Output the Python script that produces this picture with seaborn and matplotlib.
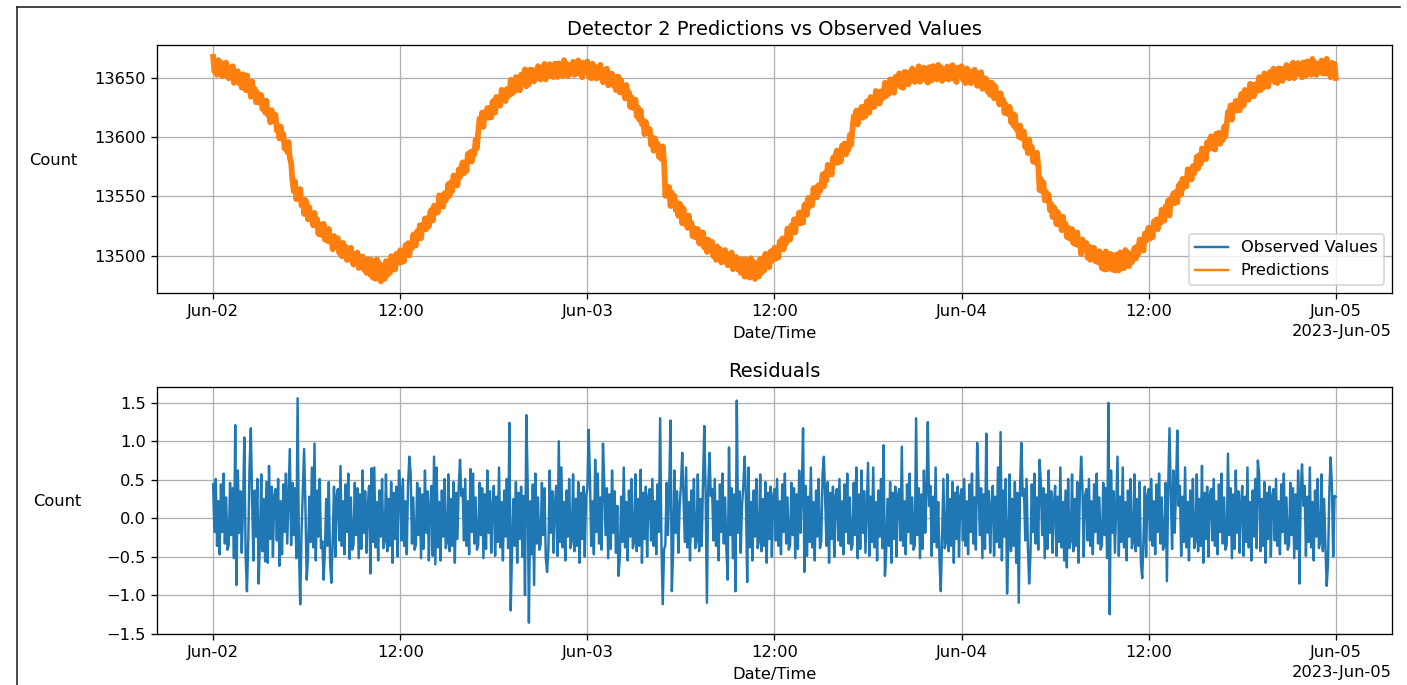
import pandas as pd
import matplotlib
matplotlib.use("Agg")
import matplotlib.pyplot as plt
import matplotlib.dates as mdates
from matplotlib.lines import Line2D
import seaborn as sns

# observed detector counts, 5-minute steps, one row per hour
obs_jun02 = [
    13668, 13655, 13663, 13652, 13665, 13656, 13663, 13651, 13659, 13652, 13663, 13652,
    13649, 13659, 13651, 13660, 13645, 13656, 13649, 13656, 13645, 13652, 13641, 13653,
    13652, 13639, 13651, 13639, 13644, 13635, 13647, 13635, 13641, 13629, 13638, 13628,
    13629, 13636, 13623, 13631, 13620, 13631, 13618, 13622, 13612, 13623, 13613, 13619,
    13619, 13605, 13610, 13598, 13609, 13598, 13603, 13590, 13595, 13587, 13596, 13583,
    13578, 13564, 13554, 13563, 13547, 13556, 13548, 13555, 13542, 13548, 13536, 13547,
    13543, 13530, 13541, 13530, 13534, 13525, 13537, 13525, 13531, 13518, 13527, 13517,
    13518, 13526, 13513, 13522, 13512, 13523, 13511, 13515, 13505, 13517, 13508, 13514,
    13515, 13502, 13509, 13499, 13511, 13502, 13508, 13496, 13503, 13497, 13507, 13496,
    13492, 13502, 13494, 13503, 13489, 13499, 13493, 13500, 13488, 13496, 13485, 13497,
    13496, 13483, 13497, 13481, 13492, 13480, 13497, 13482, 13494, 13478, 13492, 13480,
    13480, 13496, 13483, 13495, 13485, 13500, 13488, 13496, 13488, 13502, 13493, 13502,
    13505, 13494, 13504, 13495, 13509, 13503, 13511, 13501, 13511, 13506, 13518, 13510,
    13508, 13521, 13514, 13526, 13514, 13526, 13522, 13532, 13522, 13532, 13524, 13537,
    13539, 13529, 13543, 13535, 13542, 13536, 13551, 13542, 13551, 13541, 13553, 13546,
    13550, 13561, 13550, 13562, 13554, 13568, 13559, 13566, 13559, 13573, 13567, 13575,
    13579, 13569, 13579, 13571, 13586, 13580, 13588, 13579, 13589, 13585, 13598, 13590,
    13604, 13616, 13610, 13621, 13608, 13621, 13616, 13625, 13616, 13625, 13616, 13630,
    13631, 13620, 13634, 13626, 13633, 13626, 13640, 13631, 13639, 13630, 13641, 13634,
    13637, 13647, 13636, 13646, 13638, 13651, 13641, 13647, 13639, 13653, 13646, 13653,
    13656, 13644, 13653, 13643, 13657, 13649, 13657, 13646, 13654, 13649, 13660, 13651,
    13648, 13659, 13652, 13662, 13648, 13659, 13654, 13662, 13651, 13659, 13650, 13662,
    13662, 13650, 13663, 13653, 13659, 13651, 13665, 13655, 13662, 13651, 13661, 13653,
    13655, 13664, 13652, 13662, 13653, 13665, 13653, 13659, 13650, 13663, 13655, 13662,
]
obs_jun03 = [
    13664, 13652, 13659, 13649, 13662, 13653, 13660, 13649, 13656, 13650, 13661, 13650,
    13647, 13657, 13649, 13658, 13643, 13654, 13647, 13654, 13643, 13650, 13639, 13651,
    13650, 13637, 13648, 13637, 13641, 13632, 13644, 13632, 13638, 13625, 13634, 13624,
    13625, 13632, 13617, 13625, 13614, 13623, 13610, 13614, 13602, 13613, 13603, 13607,
    13607, 13593, 13600, 13588, 13599, 13590, 13595, 13583, 13589, 13581, 13591, 13579,
    13550, 13559, 13550, 13558, 13543, 13552, 13544, 13551, 13538, 13545, 13533, 13544,
    13542, 13528, 13540, 13528, 13533, 13523, 13534, 13523, 13528, 13516, 13524, 13515,
    13515, 13523, 13510, 13519, 13509, 13520, 13508, 13512, 13502, 13514, 13505, 13511,
    13512, 13499, 13507, 13496, 13508, 13500, 13506, 13494, 13502, 13495, 13505, 13495,
    13491, 13502, 13493, 13503, 13488, 13499, 13492, 13500, 13488, 13496, 13485, 13497,
    13496, 13483, 13497, 13482, 13493, 13481, 13498, 13483, 13495, 13480, 13494, 13482,
    13482, 13498, 13485, 13497, 13487, 13502, 13490, 13498, 13490, 13504, 13495, 13504,
    13507, 13497, 13506, 13498, 13512, 13506, 13515, 13505, 13515, 13510, 13523, 13514,
    13513, 13526, 13519, 13531, 13519, 13531, 13527, 13537, 13527, 13537, 13529, 13542,
    13544, 13534, 13549, 13541, 13548, 13542, 13557, 13549, 13558, 13549, 13560, 13554,
    13558, 13569, 13559, 13570, 13563, 13577, 13568, 13575, 13568, 13583, 13577, 13585,
    13589, 13578, 13588, 13579, 13593, 13586, 13595, 13585, 13594, 13589, 13602, 13593,
    13606, 13618, 13611, 13623, 13610, 13622, 13617, 13626, 13616, 13626, 13617, 13630,
    13631, 13620, 13634, 13625, 13632, 13625, 13639, 13630, 13638, 13628, 13639, 13632,
    13635, 13645, 13634, 13644, 13636, 13649, 13639, 13645, 13637, 13651, 13644, 13651,
    13654, 13642, 13651, 13641, 13655, 13647, 13655, 13644, 13652, 13647, 13658, 13649,
    13646, 13657, 13649, 13660, 13646, 13657, 13651, 13659, 13648, 13657, 13647, 13659,
    13659, 13647, 13660, 13650, 13656, 13648, 13661, 13651, 13658, 13647, 13657, 13649,
    13651, 13660, 13648, 13658, 13649, 13661, 13649, 13655, 13646, 13659, 13651, 13658,
]
obs_jun04 = [
    13660, 13648, 13655, 13645, 13658, 13650, 13656, 13645, 13653, 13647, 13657, 13647,
    13644, 13654, 13645, 13655, 13640, 13650, 13643, 13650, 13638, 13646, 13635, 13646,
    13645, 13632, 13643, 13632, 13636, 13627, 13638, 13627, 13632, 13620, 13628, 13619,
    13619, 13626, 13612, 13620, 13609, 13619, 13606, 13610, 13599, 13610, 13600, 13605,
    13605, 13591, 13597, 13586, 13597, 13587, 13592, 13579, 13585, 13578, 13587, 13575,
    13556, 13565, 13554, 13562, 13546, 13554, 13546, 13552, 13538, 13544, 13532, 13541,
    13539, 13526, 13537, 13526, 13531, 13521, 13533, 13522, 13527, 13515, 13524, 13514,
    13515, 13523, 13510, 13519, 13509, 13520, 13508, 13512, 13502, 13514, 13505, 13511,
    13511, 13498, 13508, 13496, 13507, 13499, 13507, 13495, 13501, 13494, 13504, 13494,
    13489, 13502, 13488, 13504, 13488, 13501, 13490, 13502, 13488, 13499, 13487, 13501,
    13501, 13487, 13503, 13489, 13499, 13489, 13505, 13491, 13503, 13491, 13502, 13494,
    13497, 13507, 13497, 13508, 13501, 13514, 13505, 13512, 13504, 13519, 13512, 13521,
    13524, 13514, 13523, 13515, 13529, 13523, 13531, 13522, 13531, 13527, 13539, 13531,
    13529, 13542, 13536, 13547, 13535, 13548, 13544, 13553, 13544, 13554, 13546, 13559,
    13561, 13551, 13565, 13557, 13565, 13558, 13573, 13565, 13573, 13564, 13576, 13569,
    13573, 13584, 13573, 13585, 13577, 13591, 13581, 13589, 13581, 13596, 13589, 13598,
    13601, 13590, 13599, 13589, 13603, 13596, 13604, 13594, 13603, 13597, 13609, 13600,
    13610, 13622, 13616, 13627, 13614, 13627, 13622, 13631, 13622, 13631, 13622, 13636,
    13637, 13626, 13640, 13631, 13638, 13631, 13645, 13636, 13644, 13634, 13645, 13638,
    13641, 13651, 13639, 13650, 13641, 13654, 13644, 13650, 13642, 13655, 13648, 13655,
    13658, 13646, 13655, 13645, 13658, 13651, 13658, 13647, 13656, 13650, 13661, 13652,
    13649, 13660, 13653, 13663, 13649, 13660, 13655, 13663, 13652, 13660, 13651, 13663,
    13663, 13651, 13664, 13654, 13660, 13652, 13666, 13656, 13663, 13652, 13662, 13654,
    13656, 13665, 13653, 13663, 13653, 13665, 13654, 13660, 13651, 13663, 13655, 13662,
    13650,
]

# residuals (observed - predicted), same timestamps
res_jun02 = [
    0.44, -0.18, 0.51, -0.36, 0.22, -0.47, 0.44, -0.18, 0.58, -0.33, 0.27, -0.41,
    -0.35, 0.46, -0.22, 0.39, -0.52, 1.21, -0.87, 0.62, -0.19, 0.35, -0.45, 0.16,
    1.05, -0.49, -0.95, -0.31, 0.66, 1.17, 0.21, -0.55, 0.36, -0.24, 0.51, -0.85,
    -0.30, 0.57, -0.43, 0.25, -0.56, 0.47, -0.58, 0.68, -0.27, 0.41, -0.50, 0.29,
    0.38, -0.29, 0.51, -0.62, 0.22, -0.47, 0.44, -0.18, 0.58, -0.33, 0.27, 0.90,
    -0.35, 0.46, -0.22, 0.39, -0.52, 1.56, -0.40, -1.12, -0.19, 0.35, 0.90, 0.16,
    -0.80, -0.49, 0.28, -0.31, 0.66, -0.38, 0.97, -0.55, 0.36, -0.24, 0.51, -0.39,
    -0.30, -0.80, -0.43, 0.25, -0.36, 0.47, -0.58, -0.84, -0.27, 0.41, -0.50, 0.29,
    0.38, -0.29, 0.68, -0.36, 0.22, -0.47, 0.44, -0.18, 0.58, -0.53, 0.27, -0.41,
    -0.35, 0.46, -0.22, 0.39, -0.52, 0.31, -0.40, 0.62, -0.19, 0.35, -0.45, 0.16,
    0.42, -0.72, 0.65, -0.31, 0.66, -0.38, 0.21, -0.55, 0.36, -0.24, 0.51, -0.39,
    -0.30, 0.57, -0.43, 0.25, -0.36, 0.47, -0.58, 0.33, -0.27, 0.41, -0.50, 0.62,
    0.38, -0.29, 0.51, -0.36, 0.22, -0.47, 0.44, 0.80, 0.58, -0.33, 0.27, -0.41,
    -0.35, 0.46, -0.22, 0.39, -0.52, 0.31, -0.40, 0.62, -0.19, 0.35, -0.55, 0.16,
    0.42, -0.49, 0.80, -0.60, 0.66, -0.38, 0.21, -0.55, 0.36, -0.24, 0.51, -0.39,
    -0.30, 0.57, -0.43, 0.25, -0.36, 0.47, -0.58, 0.33, -0.27, 0.41, 0.76, 0.29,
    0.38, -0.29, 0.51, -0.36, 0.22, -0.47, 0.64, -0.18, 0.58, -0.33, 0.27, -0.41,
    -0.35, 0.46, -0.22, 0.39, -0.52, 0.31, -0.40, 0.62, -0.19, 0.35, -0.45, 0.16,
    0.42, -0.49, 0.28, -0.31, 0.66, -0.38, 0.21, -0.55, 0.36, -0.24, 0.51, -0.39,
    1.24, -1.20, -0.43, 0.25, -0.36, 0.47, -0.58, 0.33, -0.27, 0.41, -0.50, 0.29,
    -1.00, 1.34, 0.51, -1.36, 0.22, -0.47, 0.44, -0.87, 0.58, -0.33, 0.27, -0.41,
    -0.35, 0.46, -0.22, 0.39, -0.52, -0.70, -0.40, 0.62, -0.19, 0.35, -0.45, 0.16,
    0.42, -0.49, 1.00, -0.31, 0.66, -0.38, 0.21, -0.55, 0.36, -0.24, 0.51, -0.39,
    -0.30, 0.57, -0.43, 0.25, -0.36, 0.47, -0.58, 0.33, -0.27, 0.41, -0.50, 0.29,
]
res_jun03 = [
    0.38, 1.15, 0.51, -0.36, 0.22, -0.47, 0.76, -0.18, 0.58, -0.33, 0.27, -0.41,
    0.97, 0.46, -0.22, 0.39, -0.52, 0.31, -0.40, 0.62, -0.19, 0.35, -0.45, 0.16,
    -0.75, -0.49, 0.28, -0.31, 0.66, -0.38, 0.21, -0.55, 0.36, -0.24, 0.51, -0.39,
    -0.30, 0.57, -0.43, 0.25, -0.36, 0.63, -0.58, 0.33, -0.27, 0.41, -0.50, 0.29,
    0.38, -0.29, 0.51, -0.36, 0.22, -0.47, 0.44, -0.18, 1.30, -0.33, -1.12, -0.41,
    -0.35, 0.46, -0.22, 0.39, 1.27, -0.95, -0.40, 0.62, -0.19, 0.35, -0.45, 0.16,
    0.42, 0.85, 0.28, -0.31, 0.66, -0.38, 0.21, -0.55, 0.36, -0.24, 0.51, -0.39,
    -0.30, 0.57, -0.43, 0.25, -0.36, 0.47, 1.20, 0.33, -1.10, 0.41, 0.85, 0.29,
    0.38, -0.29, 0.51, -0.36, 0.22, -0.55, 0.44, -0.18, 0.58, -0.33, 0.27, -0.41,
    -0.80, 0.92, -0.22, 0.39, -0.52, 0.31, -0.95, 1.53, -0.19, 0.35, -0.45, 0.16,
    0.42, 0.80, 0.28, -0.83, 0.66, -0.38, 0.21, -0.55, 0.36, -0.24, 0.51, -0.39,
    -0.30, 0.57, -0.43, 0.25, -0.36, 0.47, -0.58, 0.33, -0.27, 0.41, -0.50, 0.29,
    0.38, -0.29, 0.51, -0.36, 0.22, -0.47, 0.44, -0.18, 0.58, -0.33, 0.27, -0.41,
    -0.35, 0.46, -0.22, 0.39, -0.52, 0.31, -0.40, 0.62, -0.19, 0.35, 1.17, -0.70,
    0.42, -0.49, 0.28, -0.31, 0.66, -0.38, 0.21, -0.55, 0.36, -0.24, 0.51, -0.39,
    -0.30, 0.57, 0.80, 0.25, -0.36, 0.47, -0.58, 0.33, -0.27, 0.41, -0.50, 0.29,
    0.38, -0.29, 0.51, -0.36, 0.22, -0.47, 0.44, -0.18, 0.58, -0.33, 0.27, -0.41,
    -0.35, 0.46, -0.22, 0.66, -0.52, 0.31, -0.40, 0.62, -0.19, 0.35, -0.45, 0.16,
    0.72, -0.49, 0.28, -0.31, 0.66, -0.38, 0.21, -0.55, 0.36, -0.24, 0.51, -0.39,
    0.95, -0.75, -0.43, 0.25, -0.36, 0.47, -0.58, 0.33, -0.27, 0.41, -0.50, 0.29,
    0.38, -0.29, 0.93, -0.36, 0.22, -0.47, 0.44, -0.18, 0.58, -0.33, 0.27, -0.41,
    -0.35, 1.30, -0.22, 0.39, -0.52, 0.31, -0.40, 0.62, -0.19, 0.35, 1.25, 0.16,
    0.42, -0.49, 0.28, -0.31, 0.66, -0.38, 0.21, -0.55, -0.95, -0.24, 0.51, -0.39,
    -0.30, 0.57, -0.43, 0.25, -0.36, 0.47, -0.58, 0.33, -0.27, 0.41, -0.50, 0.29,
]
res_jun04 = [
    0.38, -0.29, 0.51, -0.36, 0.22, -0.47, 0.44, -0.18, 0.58, -0.33, 0.27, -0.41,
    0.98, 0.46, -0.22, 0.39, -0.52, 0.31, -0.40, 1.10, -0.19, 0.35, -0.45, 0.16,
    0.42, -0.49, 0.28, -0.31, 0.66, -0.38, 1.12, -0.55, 0.36, -0.24, 0.51, -0.98,
    -0.30, 0.57, -0.43, 0.25, -0.36, 0.47, -0.58, 0.33, -1.10, 0.41, 0.98, 0.29,
    0.38, -0.29, 0.51, -0.36, -0.85, -0.47, 0.44, -0.18, 0.58, -0.33, 0.27, -0.41,
    0.76, 0.46, -0.22, 0.39, -0.52, 0.31, -0.40, 0.62, -0.19, 0.35, -0.45, 0.16,
    0.42, -0.49, 0.28, -0.31, 0.66, -0.38, 0.21, -0.55, 0.36, -0.64, 0.51, -0.39,
    -0.30, 0.57, -0.43, 0.25, -0.36, 0.47, -0.58, 0.33, 0.80, 0.41, -0.50, 0.29,
    0.38, -0.29, 0.51, -0.36, 0.22, -0.47, 0.44, -0.18, 0.58, -0.33, 0.27, -0.41,
    -0.35, 0.46, -0.22, 0.39, -0.52, 1.50, -1.25, 0.62, -0.19, 0.35, -0.45, 0.16,
    0.80, -0.49, 0.28, -0.31, 0.66, -0.38, 0.21, -0.55, 0.36, -0.24, 0.51, -0.39,
    -0.30, 0.57, -0.43, 0.25, -0.36, 0.47, -0.58, -0.78, -0.27, 0.41, -0.50, 0.29,
    0.38, -0.29, 0.51, -0.36, 0.22, -0.47, 0.44, -0.18, 0.58, -0.33, 0.27, -0.41,
    -0.35, 0.46, -0.82, 0.39, 1.17, 0.31, -0.40, 0.62, -0.19, 0.35, 1.14, 0.16,
    0.42, -0.49, 0.28, -0.31, 0.66, -0.38, 0.21, -0.55, 0.36, -0.24, 0.51, -0.39,
    -0.30, 0.57, -0.43, 0.25, -0.36, 0.68, -0.58, 0.33, -0.27, 0.41, -0.50, 0.29,
    0.38, -0.29, 0.51, -0.36, 0.22, -0.47, 0.44, -0.18, 0.58, -0.33, 0.27, -0.41,
    -0.35, 0.84, -0.22, 0.39, -0.52, 0.31, -0.40, 0.62, -0.19, 0.35, -0.45, 0.16,
    0.42, -0.49, 0.28, -0.31, 0.66, -0.38, 0.21, -0.55, 0.36, -0.24, 0.51, -0.39,
    0.75, 0.57, -0.43, 0.25, -0.36, 0.47, -0.58, 0.33, -0.27, 0.41, -0.50, 0.29,
    0.38, -0.29, 0.51, -0.36, 0.22, -0.47, 0.44, -0.18, 0.58, -0.33, 0.27, -0.41,
    -0.35, 0.46, -0.22, 0.39, -0.52, 0.31, -0.40, 0.62, -0.85, 0.35, 0.70, 0.16,
    0.42, -0.49, 0.28, -0.31, 0.66, -0.38, 0.21, -0.55, 0.36, -0.24, 0.51, -0.39,
    -0.30, 0.57, -0.43, 0.25, -0.36, -0.88, -0.58, 0.33, 0.79, 0.41, -0.50, 0.29,
    0.28,
]

observed = obs_jun02 + obs_jun03 + obs_jun04
residuals = res_jun02 + res_jun03 + res_jun04
times = pd.date_range("2023-06-02 00:00", periods=len(observed), freq="5min")

df = pd.DataFrame({"time": times, "observed": observed, "residual": residuals})
df["predicted"] = df["observed"] - df["residual"]

dpi = 117
fig = plt.figure(figsize=(1407 / dpi, 685 / dpi), dpi=dpi)
ax1 = fig.add_axes([0.1116, 0.5723, 0.8777, 0.3620])
ax2 = fig.add_axes([0.1116, 0.0745, 0.8777, 0.3605])

sns.lineplot(data=df, x="time", y="observed", ax=ax1, color="C0", linewidth=1.5, label="Observed Values")
sns.lineplot(data=df, x="time", y="predicted", ax=ax1, color="C1", linewidth=3.5, label="Predictions")
ax1.set_title("Detector 2 Predictions vs Observed Values")
leg = ax1.legend(loc="lower right")
for line in leg.get_lines():
    line.set_linewidth(1.5)

sns.lineplot(data=df, x="time", y="residual", ax=ax2, color="C0")
ax2.set_title("Residuals")

for ax in (ax1, ax2):
    locator = mdates.HourLocator(byhour=[0, 12])
    ax.xaxis.set_major_locator(locator)
    ax.xaxis.set_major_formatter(mdates.ConciseDateFormatter(locator))
    ax.set_xlabel("Date/Time")
    ax.set_ylabel("Count", rotation=0, ha="center", va="center")
    ax.grid(True)

ax1.yaxis.set_label_coords(-0.084, 0.536)
ax2.yaxis.set_label_coords(-0.081, 0.538)

# screenshot frame lines
fig.add_artist(Line2D([17 / 1407, 1400 / 1407], [1 - 7 / 685, 1 - 7 / 685], color="#222222", lw=1.0))
fig.add_artist(Line2D([17 / 1407, 17 / 1407], [0, 1 - 7 / 685], color="#222222", lw=1.0))

fig.savefig("out.png", dpi=dpi)
